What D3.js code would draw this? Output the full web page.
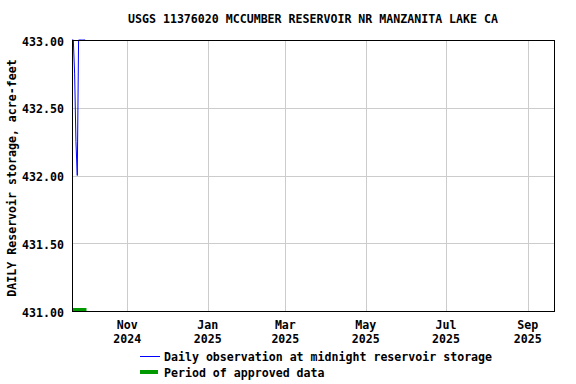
<!DOCTYPE html>
<html>
<head>
<meta charset="utf-8">
<script src="https://cdn.jsdelivr.net/npm/d3@7"></script>
<style>
body { margin: 0; background: #fff; }
text { font-family: "DejaVu Sans Mono", monospace; font-weight: bold; font-size: 11.6px; fill: #000; }
</style>
</head>
<body>
<script>
// daily reservoir storage, acre-feet
var obsDates = ["2024-09-20", "2024-09-21", "2024-09-22", "2024-09-23", "2024-09-24",
    "2024-09-25", "2024-09-26", "2024-09-27", "2024-09-28", "2024-09-29", "2024-09-30"];
var obsValues = [433.00, 433.00, 432.75, 432.25, 432.00, 433.00, 433.00, 433.00, 433.00, 433.00, 433.00];
var approvedStart = "2024-09-20";
var approvedEnd = "2024-10-01";
var yTicks = [431.0, 431.5, 432.0, 432.5, 433.0];
var xTicks = ["2024-11-01", "2025-01-01", "2025-03-01", "2025-05-01", "2025-07-01", "2025-09-01"];
var monthNames = ["Jan", "Feb", "Mar", "Apr", "May", "Jun", "Jul", "Aug", "Sep", "Oct", "Nov", "Dec"];

var W = 576, H = 384;
var mLeft = 72, mRight = 554, mTop = 40, mBottom = 311;
var parse = d3.utcParse("%Y-%m-%d");

var svg = d3.select("body").append("svg")
    .attr("width", W)
    .attr("height", H);

var x = d3.scaleUtc()
    .domain([parse("2024-09-20"), parse("2025-09-21")])
    .range([mLeft, mRight]);
var y = d3.scaleLinear()
    .domain([431, 433])
    .range([mBottom, mTop]);

// grid
svg.selectAll(".vg").data(xTicks).enter().append("line")
    .attr("x1", d => Math.round(x(parse(d))) + 0.5)
    .attr("x2", d => Math.round(x(parse(d))) + 0.5)
    .attr("y1", mTop).attr("y2", mBottom)
    .attr("stroke", "#cccccc");
svg.selectAll(".hg").data(yTicks).enter().append("line")
    .attr("x1", mLeft).attr("x2", mRight)
    .attr("y1", d => Math.round(y(d)) + 0.5)
    .attr("y2", d => Math.round(y(d)) + 0.5)
    .attr("stroke", "#cccccc");

// approved period bar
svg.append("rect")
    .attr("x", x(parse(approvedStart)))
    .attr("y", mBottom - 3)
    .attr("width", x(parse(approvedEnd)) - x(parse(approvedStart)))
    .attr("height", 4)
    .attr("fill", "#009900");

// observation line
var line = d3.line()
    .x((d, i) => x(parse(obsDates[i])))
    .y(d => y(d));
svg.append("path")
    .datum(obsValues)
    .attr("d", line)
    .attr("fill", "none")
    .attr("stroke", "#0000ff")
    .attr("stroke-width", 1);

// frame
svg.append("rect")
    .attr("x", mLeft + 0.5).attr("y", mTop + 0.5)
    .attr("width", mRight - mLeft).attr("height", mBottom - mTop)
    .attr("fill", "none")
    .attr("stroke", "#000");

// y axis labels
svg.selectAll(".yl").data(yTicks).enter().append("text")
    .attr("x", 64)
    .attr("y", d => y(d) + 5.5)
    .attr("text-anchor", "end")
    .text(d => d.toFixed(2));

// x axis labels
var xl = svg.selectAll(".xl").data(xTicks).enter().append("g")
    .attr("transform", d => "translate(" + x(parse(d)) + ",0)");
xl.append("text")
    .attr("y", 329)
    .attr("text-anchor", "middle")
    .text(d => monthNames[parse(d).getUTCMonth()]);
xl.append("text")
    .attr("y", 343)
    .attr("text-anchor", "middle")
    .text(d => parse(d).getUTCFullYear());

// title
svg.append("text")
    .attr("x", 313)
    .attr("y", 23)
    .attr("text-anchor", "middle")
    .text("USGS 11376020 MCCUMBER RESERVOIR NR MANZANITA LAKE CA");

// y title
svg.append("text")
    .attr("transform", "translate(16,178) rotate(-90)")
    .attr("text-anchor", "middle")
    .text("DAILY Reservoir storage, acre-feet");

// legend
svg.append("line")
    .attr("x1", 140).attr("x2", 160)
    .attr("y1", 356.5).attr("y2", 356.5)
    .attr("stroke", "#0000ff");
svg.append("text").attr("x", 164).attr("y", 361)
    .text("Daily observation at midnight reservoir storage");
svg.append("line")
    .attr("x1", 140).attr("x2", 158)
    .attr("y1", 372).attr("y2", 372)
    .attr("stroke", "#009900")
    .attr("stroke-width", 4);
svg.append("text").attr("x", 164).attr("y", 377)
    .text("Period of approved data");
</script>
</body>
</html>
